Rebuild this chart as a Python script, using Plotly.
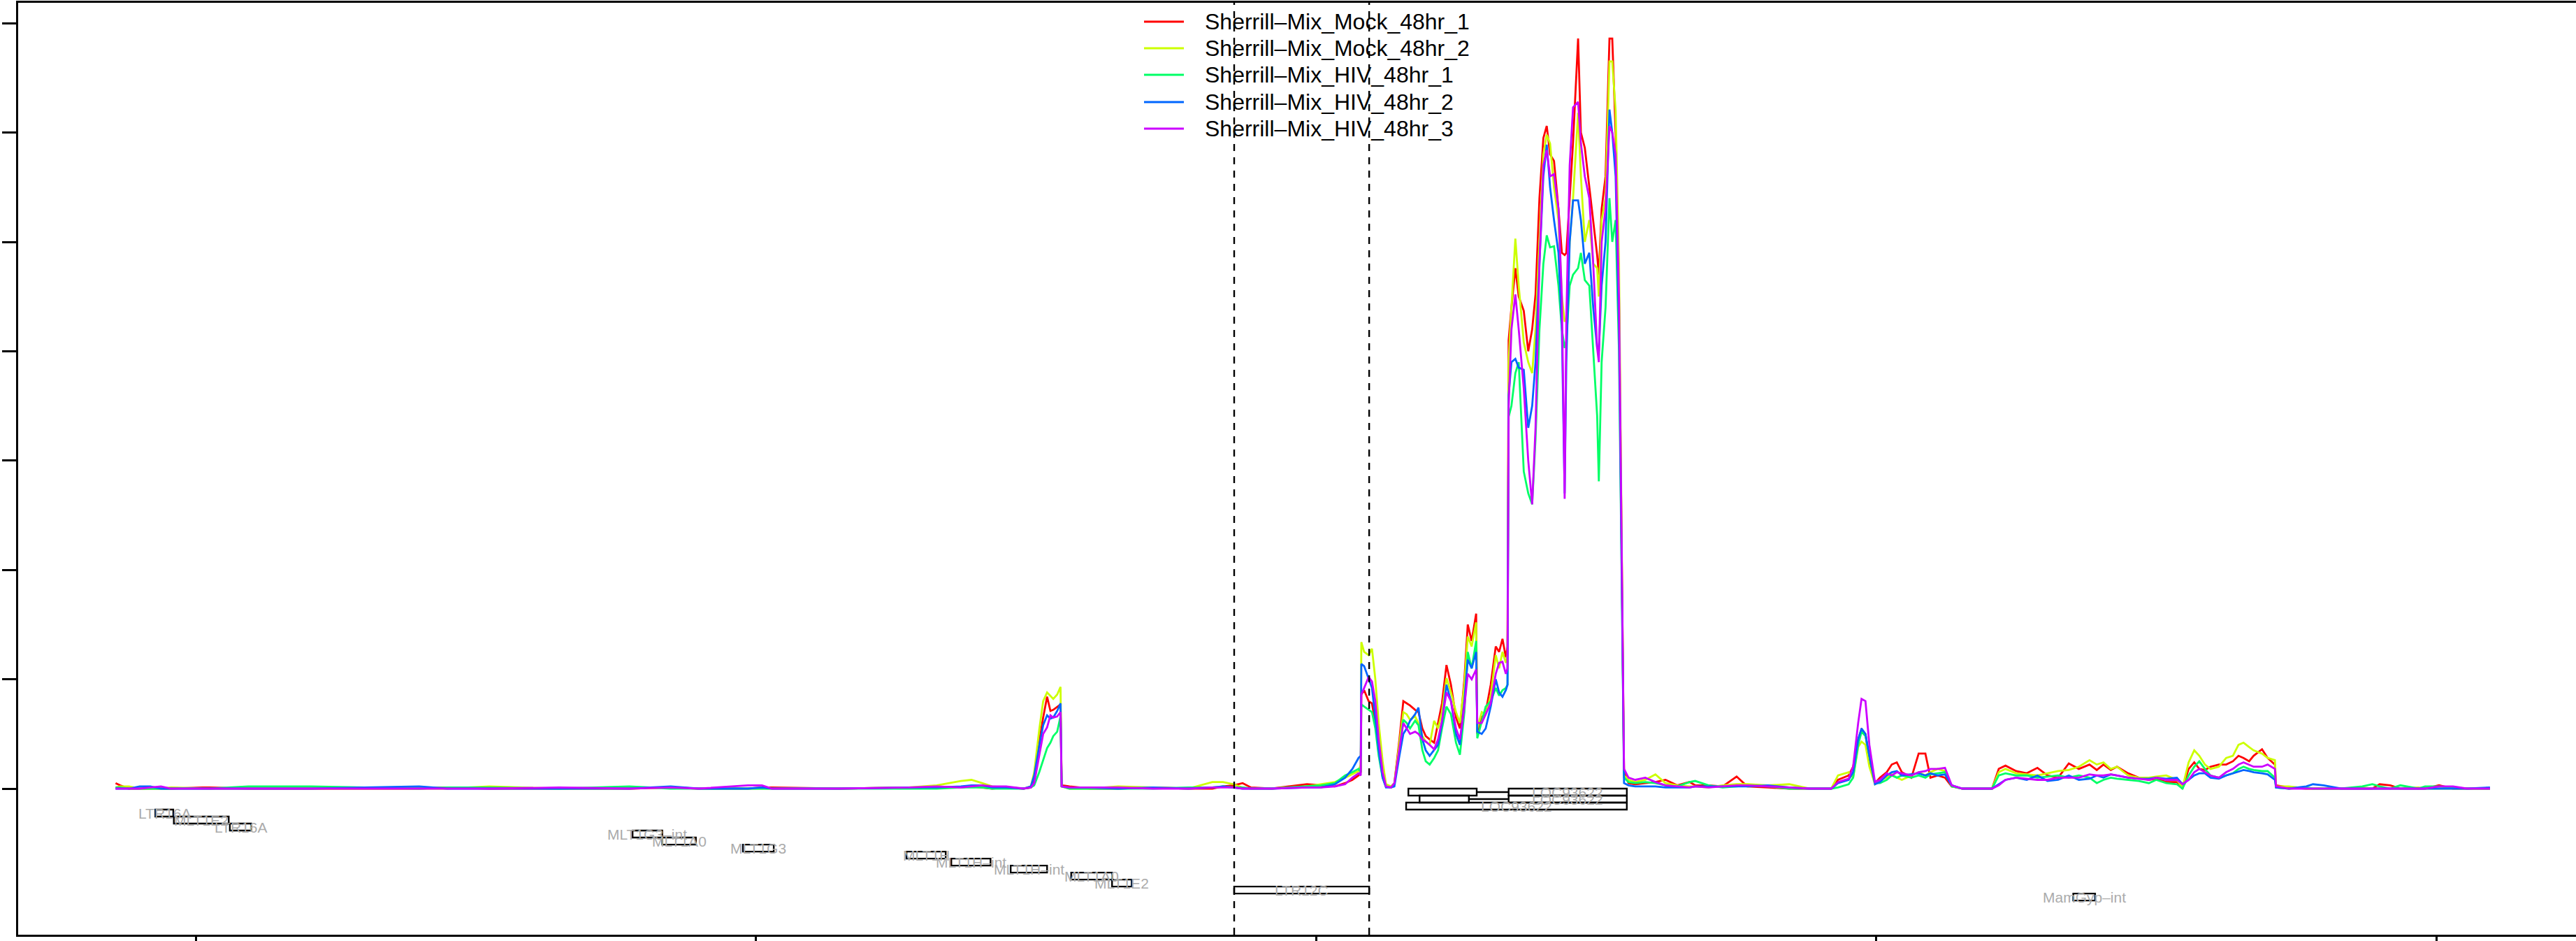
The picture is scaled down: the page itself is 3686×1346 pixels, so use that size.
import plotly.graph_objects as go

# ---------------- data ----------------
pos = [
    857, 865, 881, 900, 919, 938, 956, 1012, 1025, 1094, 1206, 1399, 1449, 1524, 1649, 1774, 1848, 1898, 1986, 2011,
    2029, 2148, 2273, 2323, 2366, 2385, 2404, 2422, 2447, 2478,
    2491, 2497, 2506, 2513, 2520, 2526, 2531, 2538, 2544, 2546, 2560, 2597, 2647, 2709, 2772, 2815, 2834, 2853, 2869, 2884,
    2921, 2984, 3009, 3034, 3052, 3065, 3076, 3080,
    3081, 3086, 3094, 3100, 3106, 3112, 3119, 3125, 3134, 3140, 3149, 3156, 3162, 3168, 3177, 3183, 3190, 3196, 3203, 3211,
    3218, 3225, 3233, 3241, 3250, 3257, 3265, 3271, 3278, 3286, 3288, 3296, 3303, 3312, 3321, 3327, 3333, 3339, 3342,
    3344, 3349, 3356, 3362, 3371, 3379, 3386, 3392, 3399, 3406, 3412, 3418, 3425, 3433, 3439, 3444, 3447, 3453, 3459, 3468,
    3473, 3480, 3488, 3495, 3502, 3505, 3510, 3517, 3524, 3529, 3535, 3541, 3548,
    3550, 3558, 3570, 3588, 3606, 3624, 3645, 3667, 3677, 3701, 3726, 3751, 3770, 3807, 3845, 3882, 3920, 3932, 3951, 3959,
    3968, 3974, 3981, 3988, 3998, 4007, 4019, 4028, 4037, 4046, 4063, 4076, 4088, 4097, 4110, 4123, 4135, 4154, 4207, 4219,
    4231, 4250, 4269, 4288, 4306, 4325, 4344, 4362, 4381, 4394, 4406, 4419, 4430, 4450, 4469, 4487, 4500, 4518, 4537, 4547,
    4558, 4568, 4577, 4587, 4597, 4612, 4625, 4637, 4647, 4656, 4666, 4674, 4689, 4699, 4712, 4714, 4737, 4768, 4780, 4799,
    4830, 4868, 4886, 4899, 4918, 4936, 4968, 4980, 5005, 5030, 5055, 5096,
]

mock_1 = [
    .05, .03, 0, 0, 0, 0, 0, .01, .01, 0, 0, 0, .01, 0, 0, 0, .01, 0, 0, .01,
    .01, 0, .01, .01, .01, .02, .01, 0, .01, 0,
    .01, .10, .43, .65, .84, .71, .72, .75, .77, .03, .02, 0, 0, .01, 0, 0, .02, .03, .05, .01,
    0, .04, .03, .02, .05, .08, .12, .15,
    .86, .90, .80, .78, .60, .35, .12, .02, .01, .05, .45, .80, .78, .76, .72, .70, .55, .48, .45, .42,
    .60, .78, 1.13, .95, .65, .55, 1.00, 1.50, 1.35, 1.60, .50, .65, .70, .95, 1.30, 1.25, 1.37, 1.20, 1.30,
    4.10, 4.40, 4.76, 4.50, 4.37, 4.00, 4.20, 4.52, 5.40, 5.95, 6.06, 5.80, 5.74, 5.30, 4.90, 4.88, 4.90, 5.40, 5.91, 6.86,
    6.00, 5.86, 5.50, 5.20, 4.88, 4.70, 5.30, 5.60, 6.86, 6.86, 6.00, 4.50, 1.00,
    .15, .05, .04, .05, .06, .08, .03, .06, .03, .03, .02, .11, .02, .01, 0, 0, 0, .08, .12, .20,
    .45, .54, .50, .25, .05, .10, .15, .22, .24, .15, .10, .32, .32, .10, .12, .10, .02, 0, 0, .18,
    .21, .16, .14, .19, .12, .10, .23, .18, .22, .17, .22, .17, .20, .14, .10, .08, .09, .06, .06, 0,
    .18, .24, .18, .17, .20, .22, .22, .25, .30, .28, .25, .30, .36, .28, .22, .03, .01, 0, 0, 0,
    0, 0, 0, .04, .03, 0, 0, 0, .03, 0, 0, 0,
]

mock_2 = [
    .01, .02, .02, 0, 0, 0, .01, 0, 0, 0, 0, 0, 0, .02, 0, 0, .01, 0, 0, 0,
    0, 0, .01, .03, .07, .08, .05, .02, .01, 0,
    .02, .15, .54, .80, .88, .85, .82, .86, .93, .02, 0, 0, .02, .01, 0, .06, .06, .04, .01, 0,
    0, .02, .04, .06, .10, .13, .16, .22,
    1.34, 1.25, 1.22, 1.28, 1.00, .60, .25, .04, .02, .05, .40, .70, .68, .63, .66, .60, .48, .43, .40, .62,
    .55, .70, 1.01, .88, .70, .60, .95, 1.39, 1.30, 1.52, .55, .70, .68, .85, 1.22, 1.10, 1.25, 1.15, 1.22,
    3.90, 4.40, 5.03, 4.60, 4.08, 3.90, 3.80, 4.20, 5.00, 5.80, 5.98, 5.90, 5.50, 5.20, 4.50, 4.27, 4.30, 5.00, 5.40, 6.18,
    5.60, 5.00, 5.20, 4.80, 4.76, 4.50, 5.20, 5.40, 6.65, 6.65, 6.20, 4.80, 1.10,
    .12, .08, .06, .08, .13, .05, .03, .02, .02, .01, .03, .04, .04, .03, .04, 0, 0, .12, .15, .10,
    .38, .43, .40, .20, .04, .08, .10, .13, .10, .08, .12, .15, .12, .15, .18, .16, .02, 0, 0, .15,
    .18, .14, .13, .12, .14, .16, .17, .20, .26, .22, .24, .18, .20, .12, .10, .10, .11, .12, .08, .01,
    .24, .35, .30, .22, .18, .20, .28, .30, .40, .42, .38, .35, .32, .28, .26, .02, .02, 0, 0, 0,
    0, .01, 0, 0, 0, 0, .01, 0, 0, 0, 0, 0,
]

hiv_1 = [
    .01, .01, 0, 0, 0, 0, 0, 0, 0, .02, .02, 0, .01, .01, 0, .02, 0, 0, 0, 0,
    0, 0, 0, 0, .01, .01, .01, 0, 0, 0,
    .01, .03, .15, .26, .37, .42, .48, .52, .66, .02, 0, 0, 0, 0, .01, .01, .02, .01, .01, 0,
    0, .02, .03, .05, .12, .15, .18, .15,
    .77, .75, .72, .70, .55, .30, .10, .02, .01, .04, .35, .63, .60, .55, .62, .58, .35, .25, .22, .28,
    .35, .55, .75, .68, .42, .31, .70, 1.25, 1.10, 1.35, .46, .62, .75, .80, .92, .85, .90, .92, .95,
    3.40, 3.50, 3.80, 3.90, 2.90, 2.70, 2.60, 3.20, 4.20, 4.80, 5.06, 4.95, 4.96, 4.60, 4.20, 4.03, 4.10, 4.60, 4.70, 4.76,
    4.90, 4.65, 4.60, 4.00, 3.41, 2.81, 3.90, 4.40, 5.40, 5.00, 5.20, 4.00, 1.00,
    .10, .06, .05, .06, .05, .03, .02, .06, .07, .03, .01, .02, .03, .02, 0, 0, 0, .01, .04, .10,
    .40, .52, .48, .30, .05, .05, .08, .12, .10, .12, .10, .12, .10, .13, .14, .15, .02, 0, 0, .12,
    .14, .12, .12, .10, .11, .12, .10, .12, .10, .05, .08, .10, .09, .08, .07, .05, .08, .05, .04, 0,
    .12, .20, .25, .18, .12, .10, .12, .14, .18, .20, .18, .17, .16, .16, .10, .01, 0, .01, 0, 0,
    0, .02, .04, .02, 0, .03, 0, .02, .02, .01, 0, 0,
]

hiv_2 = [
    0, 0, 0, .02, .02, 0, 0, 0, 0, 0, 0, .02, 0, 0, 0, 0, .02, 0, 0, .01,
    0, 0, .01, .01, .02, .03, .03, .01, .01, 0,
    .02, .12, .39, .58, .67, .64, .65, .71, .78, .02, .01, .01, 0, .01, 0, .01, .02, .01, 0, 0,
    0, .01, .01, .04, .10, .18, .28, .30,
    1.14, 1.12, 1.00, .92, .65, .35, .10, .01, .01, .02, .30, .50, .55, .62, .68, .74, .45, .35, .30, .35,
    .40, .60, .95, .80, .50, .40, .80, 1.18, 1.10, 1.25, .52, .50, .55, .75, 1.00, .88, .84, .90, .95,
    3.60, 3.90, 3.93, 3.85, 3.83, 3.30, 3.50, 3.90, 4.80, 5.60, 5.89, 5.50, 5.20, 4.90, 4.20, 2.70, 3.90, 5.00, 5.38, 5.38,
    5.20, 4.80, 4.90, 4.40, 4.03, 4.00, 4.60, 5.00, 6.21, 6.00, 5.60, 4.20, 1.00,
    .05, .03, .02, .02, .02, .01, .01, .01, .02, .02, .02, .02, .02, .03, .01, 0, 0, .05, .08, .15,
    .45, .55, .50, .30, .04, .06, .12, .15, .16, .12, .13, .14, .12, .14, .12, .13, .03, 0, 0, .04,
    .08, .10, .08, .12, .07, .08, .12, .08, .09, .12, .10, .13, .12, .10, .09, .09, .10, .09, .10, .04,
    .08, .12, .14, .14, .10, .09, .12, .14, .16, .17, .16, .15, .14, .13, .08, .01, 0, .02, .04, .03,
    0, 0, 0, 0, 0, 0, 0, 0, 0, 0, 0, .01,
]

hiv_3 = [
    0, 0, 0, 0, .01, .02, 0, 0, 0, 0, 0, 0, 0, 0, .01, 0, .01, 0, .03, .03,
    0, 0, .01, .02, .01, .02, .03, .02, .02, 0,
    .01, .05, .30, .50, .56, .67, .65, .66, .70, .02, .01, .01, .01, 0, 0, .01, .01, .01, 0, 0,
    0, .01, .01, .02, .04, .10, .14, .12,
    .86, .92, 1.02, .98, .80, .45, .15, .02, .01, .05, .35, .60, .55, .50, .52, .50, .45, .43, .40, .36,
    .45, .62, .88, .80, .55, .45, .75, 1.05, 1.00, 1.09, .60, .60, .68, .78, 1.05, 1.15, 1.16, 1.05, 1.10,
    3.50, 4.20, 4.52, 4.20, 3.66, 3.00, 2.60, 3.30, 4.80, 5.70, 5.84, 5.60, 5.62, 5.30, 4.50, 2.65, 4.30, 5.70, 6.23, 6.28,
    5.90, 5.60, 5.40, 4.80, 4.03, 3.90, 5.00, 5.30, 6.06, 6.00, 5.80, 4.50, 1.10,
    .18, .10, .08, .10, .06, .03, .02, .01, .02, .01, .02, .03, .03, .02, .01, 0, 0, .06, .09, .20,
    .60, .82, .80, .40, .06, .08, .14, .12, .15, .14, .12, .15, .16, .18, .18, .19, .03, 0, 0, .03,
    .08, .10, .09, .08, .08, .10, .10, .10, .13, .12, .12, .13, .12, .10, .09, .08, .10, .08, .08, .04,
    .08, .15, .18, .15, .12, .10, .15, .18, .22, .24, .22, .20, .20, .22, .18, .02, 0, 0, 0, 0,
    0, 0, 0, 0, 0, 0, 0, 0, .02, .02, 0, 0,
]

sample_names = [
    "Sherrill–Mix_Mock_48hr_1",
    "Sherrill–Mix_Mock_48hr_2",
    "Sherrill–Mix_HIV_48hr_1",
    "Sherrill–Mix_HIV_48hr_2",
    "Sherrill–Mix_HIV_48hr_3",
]
sample_colors = ["#FF0000", "#CCFF00", "#00FF66", "#0066FF", "#CC00FF"]

# gene model (transcripts of LOC93622)
gene_name = "LOC93622"
tx_exon_starts = [[3165, 3344], [3185, 3344], [3161]]
tx_exon_ends = [[3287, 3555], [3273, 3555], [3555]]

# repeat elements
rep_names = ["LTR16A", "MLT1E2", "LTR16A", "MLT1G3–int", "MLT1A0", "MLT1G3", "MLT1H",
             "MLT1H–int", "MLT1H–int", "MLT1A0", "MLT1E2", "LTR12C", "MamGyp–int"]
rep_start = [928, 961, 1061, 1780, 1833, 1977, 2269, 2349, 2455, 2563, 2636, 2854, 4352]
rep_end = [960, 1059, 1099, 1833, 1893, 2032, 2339, 2419, 2520, 2636, 2671, 3095, 4391]

# highlighted region (dashed lines)
highlight = [2854, 3095]

x_ticks = [1000, 2000, 3000, 4000, 5000]
y_ticks = [0, 1, 2, 3, 4, 5, 6, 7]

for s in (mock_1, mock_2, hiv_1, hiv_2, hiv_3):
    assert len(s) == len(pos), (len(s), len(pos))

# ---------------- figure ----------------
W, H = 3686, 1346
ML, MR, MT, MB = 26, 0, 4, 9
PW, PH = W - ML - MR, H - MT - MB
ROW_H = 0.064
FONT = "Liberation Sans, Arial, Helvetica, sans-serif"
LABEL_GRAY = "#ABABAB"

fig = go.Figure()
series = [mock_1, mock_2, hiv_1, hiv_2, hiv_3]
for name, ys, col in zip(sample_names, series, sample_colors):
    fig.add_trace(go.Scatter(x=pos, y=ys, mode="lines", name=name,
                             line=dict(color=col, width=2.8), showlegend=False,
                             hoverinfo="skip"))

shapes = []
annotations = []

def row_box(x0, x1, r):
    return dict(type="rect", xref="x", yref="y", x0=x0, x1=x1,
                y0=-r * ROW_H, y1=-(r + 1) * ROW_H,
                line=dict(color="black", width=2.4), fillcolor="rgba(0,0,0,0)", layer="above")

row = 0
for starts, ends in zip(tx_exon_starts, tx_exon_ends):
    ymid = -(row + 0.5) * ROW_H
    for i in range(len(starts) - 1):
        shapes.append(dict(type="line", xref="x", yref="y", x0=ends[i], x1=starts[i + 1],
                           y0=ymid, y1=ymid, line=dict(color="black", width=2.4), layer="above"))
    for a, b in zip(starts, ends):
        shapes.append(row_box(a, b, row))
    lens = [b - a for a, b in zip(starts, ends)]
    k = lens.index(max(lens))
    annotations.append(dict(x=(starts[k] + ends[k]) / 2, y=ymid, xref="x", yref="y",
                            text=gene_name, showarrow=False, xanchor="center", yanchor="middle",
                            font=dict(family=FONT, size=21, color=LABEL_GRAY)))
    row += 1

for name, a, b in zip(rep_names, rep_start, rep_end):
    ymid = -(row + 0.5) * ROW_H
    shapes.append(row_box(a, b, row))
    annotations.append(dict(x=(a + b) / 2, y=ymid, xref="x", yref="y",
                            text=name, showarrow=False, xanchor="center", yanchor="middle",
                            font=dict(family=FONT, size=21, color=LABEL_GRAY)))
    row += 1

for xv in highlight:
    shapes.append(dict(type="line", xref="x", yref="paper", x0=xv, x1=xv, y0=0, y1=1,
                       line=dict(color="black", width=2.4, dash="10px,9px"), layer="above"))

# manual legend (R style, no box)
leg_rows_px = [31, 69, 107, 146, 184]
for name, col, py in zip(sample_names, sample_colors, leg_rows_px):
    yp = (H - MB - py) / PH
    shapes.append(dict(type="line", xref="paper", yref="paper",
                       x0=(1637 - ML) / PW, x1=(1694 - ML) / PW, y0=yp, y1=yp,
                       line=dict(color=col, width=2.8), layer="above"))
    annotations.append(dict(x=(1722 - ML) / PW, y=yp, xref="paper", yref="paper",
                            text=name, showarrow=False, xanchor="left", yanchor="middle",
                            font=dict(family=FONT, size=32, color="black")))

px_per_bp = 801.5 / 1000.0
x_lo = 1000 - (280 - ML) / px_per_bp
x_hi = x_lo + PW / px_per_bp
px_per_unit = 156.4
zero_px = 1128
y_hi = (zero_px - MT) / px_per_unit
y_lo = -((H - MB) - zero_px) / px_per_unit

fig.update_layout(
    width=W, height=H,
    margin=dict(l=ML, r=MR, t=MT, b=MB, pad=0, autoexpand=False),
    paper_bgcolor="white", plot_bgcolor="white",
    showlegend=False,
    shapes=shapes, annotations=annotations,
    xaxis=dict(range=[x_lo, x_hi], tickvals=x_ticks, showticklabels=False,
               ticks="outside", ticklen=20, tickwidth=2.5, tickcolor="black",
               showline=True, linecolor="black", linewidth=2.5, mirror=True,
               showgrid=False, zeroline=False, fixedrange=True, automargin=False),
    yaxis=dict(range=[y_lo, y_hi], tickvals=y_ticks, showticklabels=False,
               ticks="outside", ticklen=20, tickwidth=2.5, tickcolor="black",
               showline=True, linecolor="black", linewidth=2.5, mirror=False,
               showgrid=False, zeroline=False, fixedrange=True, automargin=False),
)

# remove the browser's default 8px body margin so the figure sits at the page origin
fig.write_html("out.html",
               config={"displayModeBar": False},
               post_script="document.body.style.margin='0';document.body.style.overflow='hidden';")
